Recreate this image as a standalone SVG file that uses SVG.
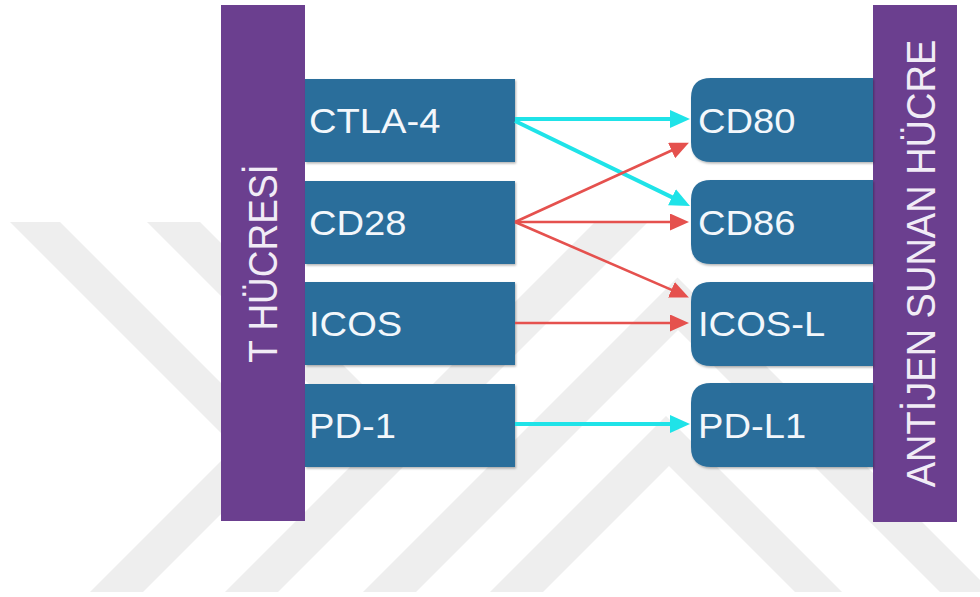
<svg xmlns="http://www.w3.org/2000/svg" width="980" height="597" viewBox="0 0 980 597">
  <style>
    .wm { fill: #eeeeee; }
    .bar { fill: #6B3F8F; }
    .box { fill: #2B6E9B; filter: url(#shadow); }
    .lbl { font-family: "Liberation Sans", Arial, sans-serif; font-size: 35px; fill: #F3F7FB; }
    .vlbl { font-family: "Liberation Sans", Arial, sans-serif; fill: #F1ECF6; text-anchor: middle; }
    .cy { stroke: #1FE3E8; stroke-width: 4; fill: none; marker-end: url(#headCyan); }
    .rd { stroke: #E5514E; stroke-width: 2.6; fill: none; marker-end: url(#headRed); }
  </style>
  <defs>
    <filter id="shadow" x="-10%" y="-10%" width="120%" height="130%">
      <feDropShadow dx="1" dy="1.5" stdDeviation="1.2" flood-color="#000000" flood-opacity="0.3"/>
    </filter>
    <marker id="headCyan" markerUnits="userSpaceOnUse" markerWidth="20" markerHeight="18" refX="10" refY="9" orient="auto">
      <path d="M0,0 L20,9 L0,18 Z" fill="#1FE3E8"/>
    </marker>
    <marker id="headRed" markerUnits="userSpaceOnUse" markerWidth="19" markerHeight="17" refX="9" refY="8.5" orient="auto">
      <path d="M0,0 L19,8.5 L0,17 Z" fill="#E5514E"/>
    </marker>
  </defs>

  <rect x="0" y="0" width="980" height="597" fill="#ffffff"/>

  <g id="watermark">
    <polygon class="wm" points="10,222 60,222 286.5,448.5 143,592 90,592 235,447"/>
    <polygon class="wm" points="147,222 200,222 397.5,419.5 371,446"/>
    <polygon class="wm" points="225,592 278,592 648,222 595,222"/>
    <polygon class="wm" points="363,592 677.5,277.5 992,592 940,592 678,330 416,592"/>
    <polygon class="wm" points="490,592 666,416 842,592 795,592 669,466 543,592"/>
  </g>

  <g id="t-hucresi">
    <rect class="bar" x="221" y="5" width="84" height="516"/>
    <text class="vlbl" font-size="37" transform="translate(277,263.5) scale(1.09,1) rotate(-90)">T HÜCRESİ</text>
  </g>

  <g id="antijen-sunan-hucre">
    <rect class="bar" x="873" y="5" width="84" height="517"/>
    <text class="vlbl" font-size="38" transform="translate(935,263.5) scale(1.09,1) rotate(-90)">ANTİJEN SUNAN HÜCRE</text>
  </g>

  <g id="ctla4">
    <rect class="box" x="305" y="79" width="210" height="83"/>
    <text class="lbl" transform="translate(309,133) scale(1.09,1)">CTLA-4</text>
  </g>
  <g id="cd28">
    <rect class="box" x="305" y="181" width="210" height="83"/>
    <text class="lbl" transform="translate(309,235) scale(1.09,1)">CD28</text>
  </g>
  <g id="icos">
    <rect class="box" x="305" y="282" width="210" height="83"/>
    <text class="lbl" transform="translate(309,336) scale(1.09,1)">ICOS</text>
  </g>
  <g id="pd1">
    <rect class="box" x="305" y="384" width="210" height="83"/>
    <text class="lbl" transform="translate(309,438) scale(1.09,1)">PD-1</text>
  </g>

  <g id="cd80">
    <path class="box" d="M711,78 H873 V162 H711 Q691,162 691,142 V98 Q691,78 711,78 Z"/>
    <text class="lbl" transform="translate(698,133) scale(1.09,1)">CD80</text>
  </g>
  <g id="cd86">
    <path class="box" d="M711,180 H873 V264 H711 Q691,264 691,244 V200 Q691,180 711,180 Z"/>
    <text class="lbl" transform="translate(698,235) scale(1.09,1)">CD86</text>
  </g>
  <g id="icos-l">
    <path class="box" d="M711,282 H873 V366 H711 Q691,366 691,346 V302 Q691,282 711,282 Z"/>
    <text class="lbl" transform="translate(698,336) scale(1.09,1)">ICOS-L</text>
  </g>
  <g id="pd-l1">
    <path class="box" d="M711,383 H873 V467 H711 Q691,467 691,447 V403 Q691,383 711,383 Z"/>
    <text class="lbl" transform="translate(698,438) scale(1.09,1)">PD-L1</text>
  </g>

  <g id="connectors">
    <line class="cy" x1="515" y1="119" x2="680" y2="119"/>
    <line class="cy" x1="515" y1="121" x2="681" y2="201.6"/>
    <line class="rd" x1="515" y1="222" x2="679.8" y2="146.8"/>
    <line class="rd" x1="515" y1="222" x2="679" y2="222"/>
    <line class="rd" x1="515" y1="222" x2="679.7" y2="293.4"/>
    <line class="rd" x1="515" y1="323" x2="679" y2="323"/>
    <line class="cy" x1="515" y1="424" x2="680" y2="424"/>
  </g>
</svg>
